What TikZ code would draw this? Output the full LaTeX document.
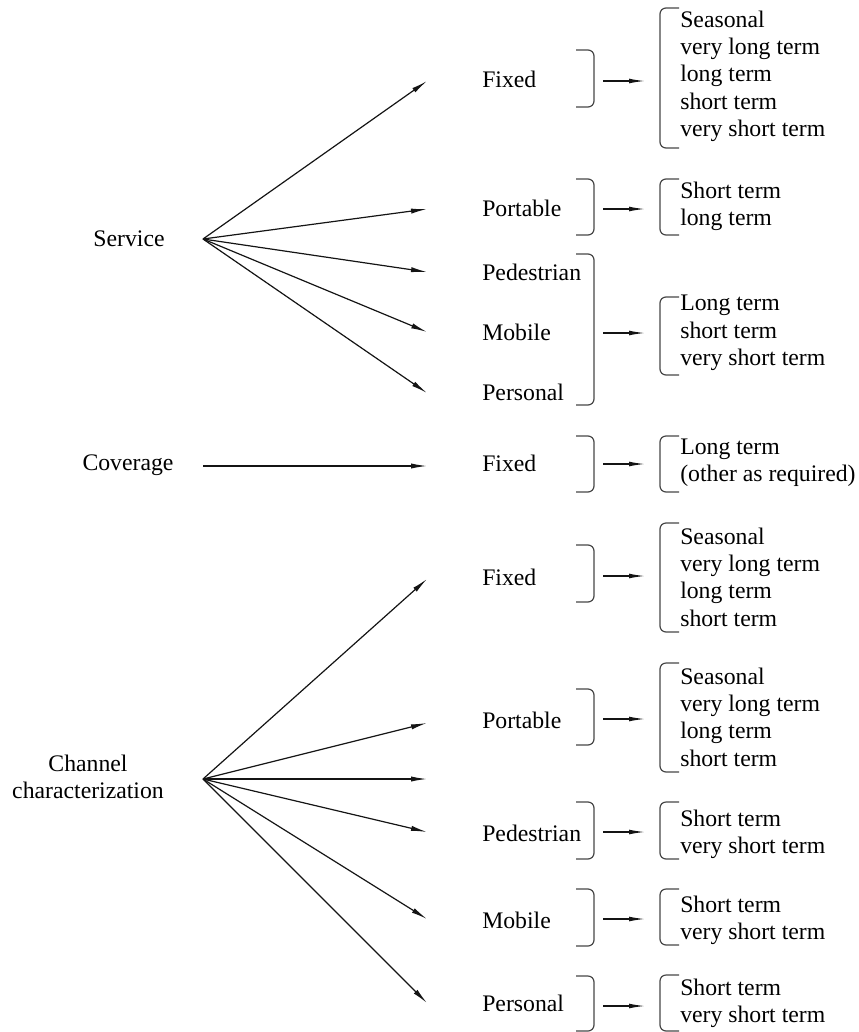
\documentclass[tikz,border=0pt]{standalone}
\usepackage{fontspec}
\setmainfont{Liberation Serif}
\newfontfamily\termsfont{Liberation Serif}
\usetikzlibrary{arrows.meta}
\begin{document}
\begin{tikzpicture}[x=0.75pt,y=0.75pt,yscale=-1,xscale=1,
  every node/.style={font=\termsfont\fontsize{17.8}{20.5}\selectfont,inner sep=0pt},
  cat/.style={anchor=west},
  terms/.style={anchor=west,align=left},
  spoke/.style={draw={rgb, 255:red, 20; green, 20; blue, 20 },line width=0.9pt,-{Latex[length=12pt,width=3.9pt]}},
  link/.style={draw={rgb, 255:red, 20; green, 20; blue, 20 },line width=0.9pt,-{Latex[length=12pt,width=3.6pt]}},
  brk/.style={draw={rgb, 255:red, 70; green, 70; blue, 70 },line width=0.9pt,rounded corners=4.5pt}]
\useasboundingbox (0,0) rectangle (859,1032);

% Text Node
\node (svc) at (129,239) {Service};
% Text Node
\node (cov) at (128,465) {Coverage};
% Text Node
\node[align=center] (chn) at (88,777) {Channel\\characterization};

%Origins and tips
\coordinate (svcO) at (203,239);
\coordinate (covO) at (203,466);
\coordinate (chnO) at (203,779);
\coordinate (sFixT) at (427,81);
\coordinate (sPorT) at (427,209);
\coordinate (sPedT) at (427,272);
\coordinate (sMobT) at (427,332);
\coordinate (sPerT) at (427,393);
\coordinate (cFixT) at (427,466);
\coordinate (hFixT) at (427,579);
\coordinate (hPorT) at (427,723);
\coordinate (hMidT) at (427,779);
\coordinate (hPedT) at (427,832);
\coordinate (hMobT) at (427,919);
\coordinate (hPerT) at (427,1003);

%Straight Lines
\draw[spoke] (svcO) -- (sFixT);
\draw[spoke] (svcO) -- (sPorT);
\draw[spoke] (svcO) -- (sPedT);
\draw[spoke] (svcO) -- (sMobT);
\draw[spoke] (svcO) -- (sPerT);
\draw[spoke] (covO) -- (cFixT);
\draw[spoke] (chnO) -- (hFixT);
\draw[spoke] (chnO) -- (hPorT);
\draw[spoke] (chnO) -- (hMidT);
\draw[spoke] (chnO) -- (hPedT);
\draw[spoke] (chnO) -- (hMobT);
\draw[spoke] (chnO) -- (hPerT);

% Text Node
\node[cat] (sFix) at (482,79) {Fixed};
\node[cat] (sPor) at (482,208) {Portable};
\node[cat] (sPed) at (482,272) {Pedestrian};
\node[cat] (sMob) at (482,332) {Mobile};
\node[cat] (sPer) at (482,392) {Personal};
\node[cat] (cFix) at (482,463) {Fixed};
\node[cat] (hFix) at (482,577) {Fixed};
\node[cat] (hPor) at (482,720) {Portable};
\node[cat] (hPed) at (482,833) {Pedestrian};
\node[cat] (hMob) at (482,920) {Mobile};
\node[cat] (hPer) at (482,1003) {Personal};

%Closing brackets
\draw[brk] (576,50) -- (594,50) -- (594,107) -- (576,107);
\draw[brk] (576,179) -- (594,179) -- (594,235) -- (576,235);
\draw[brk] (576,254) -- (594,254) -- (594,405) -- (576,405);
\draw[brk] (576,436) -- (594,436) -- (594,492) -- (576,492);
\draw[brk] (576,545) -- (594,545) -- (594,602) -- (576,602);
\draw[brk] (576,689) -- (594,689) -- (594,745) -- (576,745);
\draw[brk] (576,802) -- (594,802) -- (594,859) -- (576,859);
\draw[brk] (576,889) -- (594,889) -- (594,946) -- (576,946);
\draw[brk] (576,976) -- (594,976) -- (594,1031) -- (576,1031);

%Opening brackets
\draw[brk] (679,8) -- (660,8) -- (660,148) -- (679,148);
\draw[brk] (679,179) -- (660,179) -- (660,235) -- (679,235);
\draw[brk] (679,297) -- (660,297) -- (660,375) -- (679,375);
\draw[brk] (679,436) -- (660,436) -- (660,492) -- (679,492);
\draw[brk] (679,523) -- (660,523) -- (660,632) -- (679,632);
\draw[brk] (679,663) -- (660,663) -- (660,772) -- (679,772);
\draw[brk] (679,802) -- (660,802) -- (660,859) -- (679,859);
\draw[brk] (679,889) -- (660,889) -- (660,945) -- (679,945);
\draw[brk] (679,975) -- (660,975) -- (660,1031) -- (679,1031);

%Short arrows
\coordinate (aS1) at (603,81);   \coordinate (bS1) at (645,81);
\coordinate (aS2) at (603,209);  \coordinate (bS2) at (645,209);
\coordinate (aS3) at (603,333);  \coordinate (bS3) at (645,333);
\coordinate (aC1) at (603,464);  \coordinate (bC1) at (645,464);
\coordinate (aH1) at (603,576);  \coordinate (bH1) at (645,576);
\coordinate (aH2) at (603,719);  \coordinate (bH2) at (645,719);
\coordinate (aH3) at (603,832);  \coordinate (bH3) at (645,832);
\coordinate (aH4) at (603,919);  \coordinate (bH4) at (645,919);
\coordinate (aH5) at (603,1006); \coordinate (bH5) at (645,1006);
\draw[link] (aS1) -- (bS1);
\draw[link] (aS2) -- (bS2);
\draw[link] (aS3) -- (bS3);
\draw[link] (aC1) -- (bC1);
\draw[link] (aH1) -- (bH1);
\draw[link] (aH2) -- (bH2);
\draw[link] (aH3) -- (bH3);
\draw[link] (aH4) -- (bH4);
\draw[link] (aH5) -- (bH5);

% Text Node
\node[terms] (tS1) at (680,76) {Seasonal\\very long term\\long term\\short term\\very short term};
\node[terms] (tS2) at (680,206) {Short term\\long term};
\node[terms] (tS3) at (680,333) {Long term\\short term\\very short term};
\node[terms] (tC1) at (680,463) {Long term\\(other as required)};
\node[terms] (tH1) at (680,577) {Seasonal\\very long term\\long term\\short term};
\node[terms] (tH2) at (680,717) {Seasonal\\very long term\\long term\\short term};
\node[terms] (tH3) at (680,834) {Short term\\very short term};
\node[terms] (tH4) at (680,920) {Short term\\very short term};
\node[terms] (tH5) at (680,1003) {Short term\\very short term};

\end{tikzpicture}
\end{document}
